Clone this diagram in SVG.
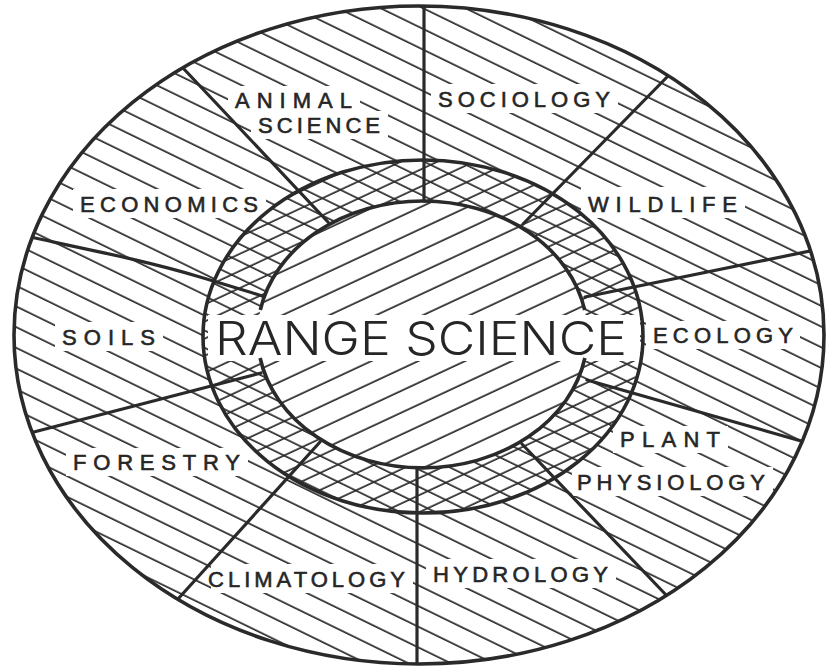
<svg xmlns="http://www.w3.org/2000/svg" width="827" height="666" viewBox="0 0 827 666">
<style>
.lbl{font-family:"Liberation Sans",Arial,sans-serif;font-size:22px;fill:#262626;stroke:#262626;stroke-width:0.6}
.big{font-family:Inter,Roboto,"Liberation Sans",sans-serif;font-weight:300;font-size:46px;fill:#262626}
.bg{fill:#ffffff}
.div{fill:none;stroke:#2a2a2a;stroke-width:3.2;stroke-linecap:round}
.rim{fill:none;stroke:#2a2a2a;stroke-width:3.6}
.h{stroke:#2a2a2a;stroke-width:1.8}
</style>
<defs>
<pattern id="hDown" patternUnits="userSpaceOnUse" width="60" height="18.6" patternTransform="rotate(26)">
<line class="h" x1="0" y1="8" x2="60" y2="8"/>
</pattern>
<pattern id="hUp" patternUnits="userSpaceOnUse" width="60" height="19.8" patternTransform="rotate(-25)">
<line class="h" x1="0" y1="9" x2="60" y2="9"/>
</pattern>
<pattern id="rDown" patternUnits="userSpaceOnUse" width="60" height="15.5" patternTransform="rotate(26)">
<line class="h" x1="0" y1="6" x2="60" y2="6"/>
</pattern>
<pattern id="rUp" patternUnits="userSpaceOnUse" width="60" height="15.5" patternTransform="rotate(-25)">
<line class="h" x1="0" y1="6" x2="60" y2="6"/>
</pattern>
<clipPath id="outerClip">
<path d="M14 335a405 329 0 1 0 810 0a405 329 0 1 0-810 0Z"/>
</clipPath>
</defs>
<rect width="827" height="666" fill="#ffffff"/>
<g id="hatching">
<path fill="url(#hDown)" fill-rule="evenodd" d="M14 335a405 329 0 1 0 810 0a405 329 0 1 0-810 0ZM203 336.5a220 176.5 0 1 0 440 0a220 176.5 0 1 0-440 0Z"/>
<path fill="url(#rDown)" fill-rule="evenodd" d="M203 336.5a220 176.5 0 1 0 440 0a220 176.5 0 1 0-440 0ZM257.5 334.5a165 133.5 0 1 0 330 0a165 133.5 0 1 0-330 0Z"/>
<path fill="url(#rUp)" fill-rule="evenodd" d="M203 336.5a220 176.5 0 1 0 440 0a220 176.5 0 1 0-440 0ZM257.5 334.5a165 133.5 0 1 0 330 0a165 133.5 0 1 0-330 0Z"/>
<path fill="url(#hUp)" d="M257.5 334.5a165 133.5 0 1 0 330 0a165 133.5 0 1 0-330 0Z"/>
</g>
<g id="label-backgrounds">
<rect class="bg" x="228" y="86" width="132" height="28"/>
<rect class="bg" x="251" y="111" width="137" height="28"/>
<rect class="bg" x="431" y="84" width="187" height="29"/>
<rect class="bg" x="73" y="189" width="193" height="29"/>
<rect class="bg" x="581" y="187" width="164" height="31"/>
<rect class="bg" x="55" y="322" width="108" height="29"/>
<rect class="bg" x="646" y="321" width="154" height="28"/>
<rect class="bg" x="613" y="426" width="115" height="27"/>
<rect class="bg" x="572" y="467" width="201" height="29"/>
<rect class="bg" x="66" y="448" width="182" height="28"/>
<rect class="bg" x="211" y="564" width="202" height="29"/>
<rect class="bg" x="426" y="559" width="190" height="29"/>
<rect class="bg" x="208" y="315" width="432" height="46"/>
</g>
<g id="outlines">
<path class="rim" d="M14 335a405 329 0 1 0 810 0a405 329 0 1 0-810 0Z"/>
<path class="rim" d="M203 336.5a220 176.5 0 1 0 440 0a220 176.5 0 1 0-440 0Z"/>
<path class="rim" d="M260.3 310A165 133.5 0 0 1 584.7 310"/>
<path class="rim" d="M260.1 358A165 133.5 0 0 0 584.9 358"/>
</g>
<g id="connectors" clip-path="url(#outerClip)">
<line class="div" x1="424" y1="4" x2="424" y2="201"/>
<line class="div" x1="670" y1="74" x2="523" y2="224"/>
<line class="div" x1="820" y1="249" x2="585" y2="297"/>
<line class="div" x1="587" y1="380" x2="815" y2="445"/>
<line class="div" x1="522" y1="444" x2="668" y2="597"/>
<line class="div" x1="417" y1="468" x2="417" y2="668"/>
<line class="div" x1="178" y1="599" x2="320" y2="442"/>
<line class="div" x1="30" y1="433" x2="261" y2="373"/>
<path class="div" d="M30 237C100 252 150 262 200 277S250 292 262 296"/>
<line class="div" x1="183" y1="68" x2="328" y2="222"/>
</g>
<g id="center"><text class="big" x="215" y="355" textLength="412" lengthAdjust="spacingAndGlyphs">RANGE SCIENCE</text></g>
<g id="animal-science"><text class="lbl" x="235" y="108" textLength="117" lengthAdjust="spacing">ANIMAL</text><text class="lbl" x="258" y="133" textLength="122" lengthAdjust="spacing">SCIENCE</text></g>
<g id="sociology"><text class="lbl" x="438" y="107" textLength="172" lengthAdjust="spacing">SOCIOLOGY</text></g>
<g id="economics"><text class="lbl" x="80" y="212" textLength="178" lengthAdjust="spacing">ECONOMICS</text></g>
<g id="wildlife"><text class="lbl" x="588" y="212" textLength="149" lengthAdjust="spacing">WILDLIFE</text></g>
<g id="soils"><text class="lbl" x="62" y="345" textLength="93" lengthAdjust="spacing">SOILS</text></g>
<g id="ecology"><text class="lbl" x="653" y="343" textLength="140" lengthAdjust="spacing">ECOLOGY</text></g>
<g id="plant-physiology"><text class="lbl" x="620" y="447" textLength="100" lengthAdjust="spacing">PLANT</text><text class="lbl" x="577" y="490" textLength="188" lengthAdjust="spacing">PHYSIOLOGY</text></g>
<g id="forestry"><text class="lbl" x="73" y="470" textLength="167" lengthAdjust="spacing">FORESTRY</text></g>
<g id="climatology"><text class="lbl" x="208" y="587" textLength="197" lengthAdjust="spacing">CLIMATOLOGY</text></g>
<g id="hydrology"><text class="lbl" x="433" y="582" textLength="175" lengthAdjust="spacing">HYDROLOGY</text></g>
</svg>
